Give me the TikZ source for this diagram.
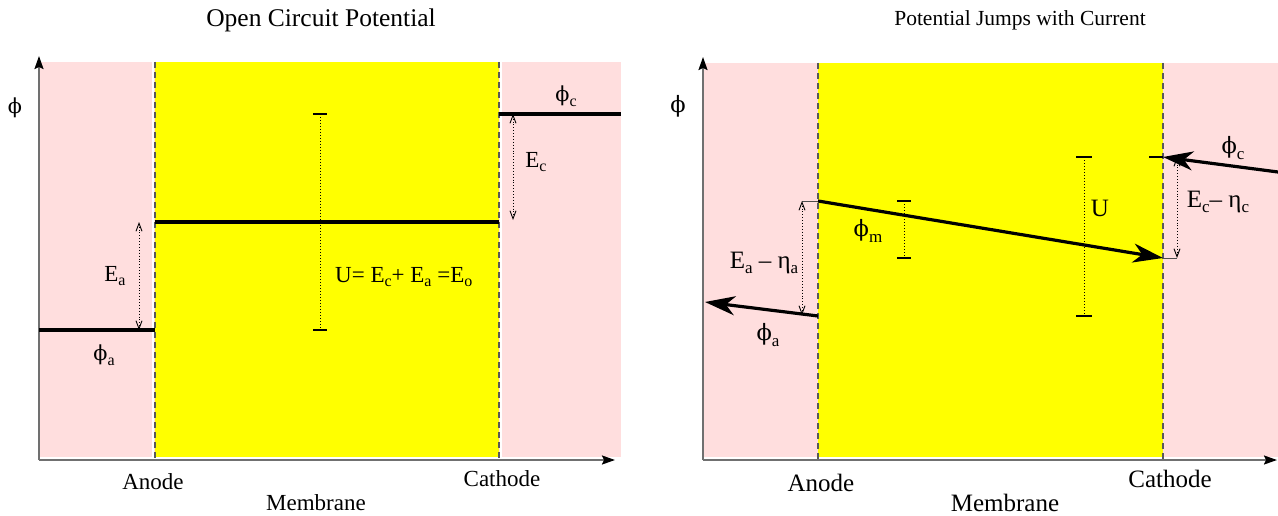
\documentclass[tikz,border=0pt]{standalone}
\usepackage{fontspec}
\setmainfont{Liberation Serif}
\newfontfamily\phfont{DejaVu Serif}
\usetikzlibrary{arrows.meta}
\definecolor{pinkbg}{HTML}{FFDEDE}
\definecolor{ylw}{HTML}{FFFF00}
\definecolor{axisgray}{HTML}{707070}
\newcommand\sbs[1]{\raisebox{-0.45ex}{\fontsize{16}{16}\selectfont #1}}
\newcommand\sbr[1]{\raisebox{-0.45ex}{\fontsize{17}{17}\selectfont #1}}
\newcommand\phs{{\phfont\scalebox{0.9}{ϕ}}}
\begin{document}
\begin{tikzpicture}[x=1pt,y=-1pt,
  lblL/.style={font=\fontsize{23}{25}\selectfont, inner sep=0pt},
  lblR/.style={font=\fontsize{25}{27}\selectfont, inner sep=0pt},
  ttlL/.style={font=\fontsize{25.5}{28}\selectfont, inner sep=0pt},
  ttlR/.style={font=\fontsize{21.5}{24}\selectfont, inner sep=0pt},
  axisline/.style={axisgray, line width=1.8pt, -{Stealth[black,length=13pt,width=9pt,inset=2pt]}},
  sep/.style={white, line width=2pt},
  dashsep/.style={black!65, line width=1.1pt, dash pattern=on 6pt off 4pt},
  level/.style={black, line width=3.2pt},
  bigarrow/.style={black, line width=3.2pt, -{Stealth[length=30pt,width=19pt,inset=9pt]}},
  thin/.style={black!70, line width=0.9pt},
  dimarrow/.style={black, line width=0.9pt, dotted, {Straight Barb[length=8pt,width=6pt]}-{Straight Barb[length=8pt,width=6pt]}},
  ubar/.style={black, line width=1pt, dotted},
  tick/.style={black, line width=1.1pt}
]
\useasboundingbox (0,0) rectangle (1278,516);

% ---------------- Left panel ----------------
\fill[pinkbg] (39,62) rectangle (621,457);
\fill[ylw] (155,62) rectangle (499,457);
\draw[sep] (153,62) -- (153,458);
\draw[sep] (501,62) -- (501,458);
\draw[dashsep] (155,62) -- (155,460);
\draw[dashsep] (499,62) -- (499,460);

\coordinate (LO) at (39,460);
\coordinate (LY) at (39,56);
\coordinate (LX) at (615,460);
\draw[axisline] (LO) -- (LY);
\draw[axisline] (LO) -- (LX);

\coordinate (aL) at (39,330);  \coordinate (aR) at (155,330);
\coordinate (mL) at (155,222); \coordinate (mR) at (499,222);
\coordinate (cL) at (499,114); \coordinate (cR) at (621,114);
\draw[level] (aL) -- (aR);
\draw[level] (mL) -- (mR);
\draw[level] (cL) -- (cR);

\coordinate (eaT) at (139,222); \coordinate (eaB) at (139,330);
\draw[dimarrow] (eaT) -- (eaB);
\coordinate (ecT) at (513,114); \coordinate (ecB) at (513,220);
\draw[dimarrow] (ecT) -- (ecB);

\coordinate (uT) at (320,114); \coordinate (uB) at (320,330);
\draw[ubar] (uT) -- (uB);
\draw[tick] ([xshift=-7pt]uT) -- ([xshift=7pt]uT);
\draw[tick] ([xshift=-7pt]uB) -- ([xshift=7pt]uB);

\node[lblL] (phiL) at (15,108) {\phs};
\node[lblL] (Ea) at (115,276) {E\sbs{a}};
\node[lblL] (Ec) at (536,162) {E\sbs{c}};
\node[lblL] (phia) at (104,355) {\phs\sbs{a}};
\node[lblL] (phic) at (566,96) {\phs\sbs{c}};
\node[lblL, anchor=west] (Ueq) at (335,277) {U= E\sbs{c}+ E\sbs{a} =E\sbs{o}};
\node[ttlL] (t1) at (321,20) {Open Circuit Potential};
\node[lblL] (anL) at (153,482) {Anode};
\node[lblL] (caL) at (502,479) {Cathode};
\node[lblL] (meL) at (316,503) {Membrane};

% ---------------- Right panel ----------------
\fill[pinkbg] (703,63) rectangle (1278,457);
\fill[ylw] (818,63) rectangle (1163,457);
\draw[dashsep] (818,63) -- (818,460);
\draw[dashsep] (1163,63) -- (1163,460);

\coordinate (RO) at (703,460);
\coordinate (RY) at (703,57);
\coordinate (RX) at (1277,460);
\draw[axisline] (RO) -- (RY);
\draw[axisline] (RO) -- (RX);

\coordinate (raS) at (818,316); \coordinate (raE) at (705,302);
\draw[bigarrow] (raS) -- (raE);
\coordinate (rmS) at (818,201); \coordinate (rmE) at (1163,258);
\draw[bigarrow] (rmS) -- (rmE);
\coordinate (rcS) at (1278,172); \coordinate (rcE) at (1163,157);
\draw[bigarrow] (rcS) -- (rcE);

\coordinate (stA) at (802,201);
\draw[thin] (stA) -- (rmS);
\coordinate (stC) at (1177,258);
\draw[thin] (rmE) -- (stC);
\coordinate (tkC) at (1149,157);
\draw[tick] (tkC) -- (rcE);

\coordinate (eaTr) at (802,201); \coordinate (eaBr) at (802,315);
\draw[dimarrow] (eaTr) -- (eaBr);
\coordinate (ecTr) at (1177,157); \coordinate (ecBr) at (1177,258);
\draw[dimarrow] (ecTr) -- (ecBr);

\coordinate (pmT) at (904,201); \coordinate (pmB) at (904,258);
\draw[ubar] (pmT) -- (pmB);
\draw[tick] ([xshift=-7pt]pmT) -- ([xshift=7pt]pmT);
\draw[tick] ([xshift=-7pt]pmB) -- ([xshift=7pt]pmB);

\coordinate (uTr) at (1084,157); \coordinate (uBr) at (1084,316);
\draw[ubar] (uTr) -- (uBr);
\draw[tick] ([xshift=-8pt]uTr) -- ([xshift=8pt]uTr);
\draw[tick] ([xshift=-8pt]uBr) -- ([xshift=8pt]uBr);

\node[lblR] (phiR) at (678,106) {\phs};
\node[lblR] (Eeta) at (764,263) {E\sbr{a} -- η\sbr{a}};
\node[lblR] (phiar) at (768,335) {\phs\sbr{a}};
\node[lblR] (phim) at (868,231) {\phs\sbr{m}};
\node[lblR] (Ur) at (1100,208) {U};
\node[lblR] (Eceta) at (1218,202) {E\sbr{c}-- η\sbr{c}};
\node[lblR] (phicr) at (1233,148) {\phs\sbr{c}};
\node[ttlR] (t2) at (1020,20) {Potential Jumps with Current};
\node[lblR] (anR) at (821,483) {Anode};
\node[lblR] (caR) at (1170,479) {Cathode};
\node[lblR] (meR) at (1005,503) {Membrane};
\end{tikzpicture}
\end{document}
